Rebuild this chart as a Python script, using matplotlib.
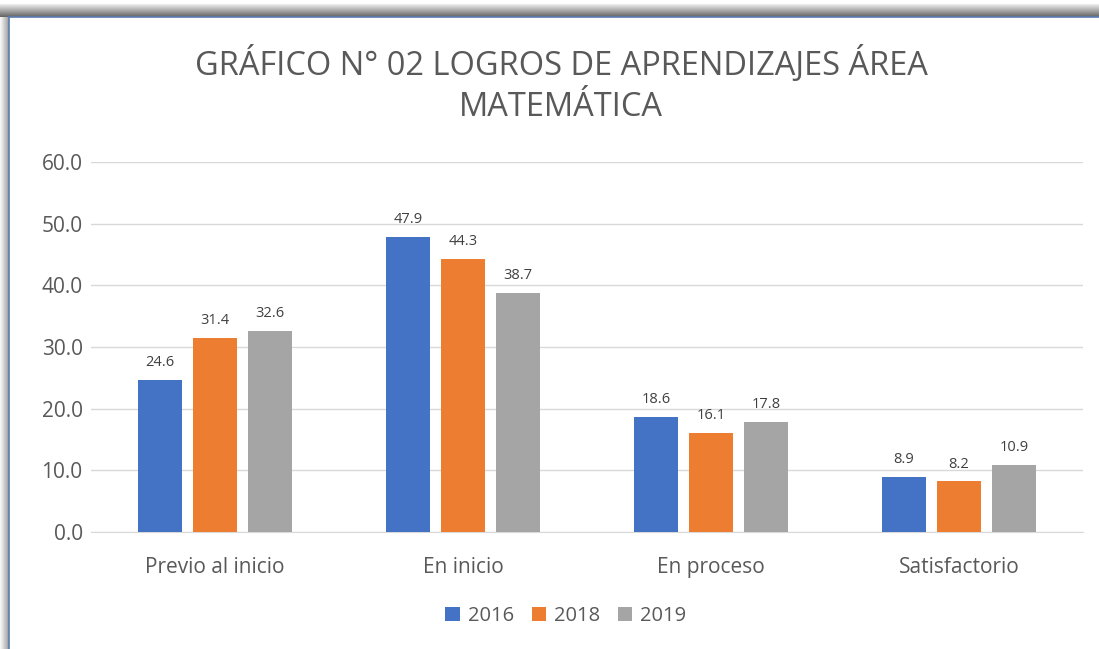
import matplotlib
matplotlib.use("Agg")
import matplotlib.pyplot as plt
from matplotlib.patches import Rectangle
import numpy as np

categories = ["Previo al inicio", "En inicio", "En proceso", "Satisfactorio"]
years = ["2016", "2018", "2019"]
v2016 = [24.6, 47.9, 18.6, 8.9]
v2018 = [31.4, 44.3, 16.1, 8.2]
v2019 = [32.6, 38.7, 17.8, 10.9]
series = [v2016, v2018, v2019]
colors = ["#4472C4", "#ED7D31", "#A5A5A5"]
title = "GRÁFICO N° 02 LOGROS DE APRENDIZAJES ÁREA\nMATEMÁTICA"

W, H = 1099, 649
fig = plt.figure(figsize=(W / 100, H / 100), dpi=100)
plt.rcParams['font.family'] = ['Open Sans', 'DejaVu Sans']

# shadow and frame
for i in range(13):
    fig.patches.append(Rectangle((0, (H - 17 + i) / H), 1, 1 / H,
                                 transform=fig.transFigure, color='#555555',
                                 alpha=max(0.05, 0.9 - 0.065 * i), lw=0, zorder=0))
for i in range(9):
    fig.patches.append(Rectangle(((8 - i) / W, 0), 1 / W, (H - 17) / H,
                                 transform=fig.transFigure, color='#606060',
                                 alpha=max(0.05, 0.6 - 0.07 * i), lw=0, zorder=0))
fig.patches.append(Rectangle((9 / W, -0.01), 1.1, (H - 17) / H + 0.01,
                             transform=fig.transFigure, facecolor='white',
                             edgecolor='#5B7DB1', lw=1.2, zorder=1))

ax = fig.add_axes([91 / W, (H - 532) / H, (1083 - 91) / W, (532 - 162) / H])
ax.set_zorder(2)
ax.patch.set_alpha(0)

x = np.arange(len(categories))
step = 0.222
bw = 0.177
for i, (vals, c, yr) in enumerate(zip(series, colors, years)):
    pos = x + (i - 1) * step
    ax.bar(pos, vals, width=bw, color=c, label=yr, zorder=3)
    for p, v in zip(pos, vals):
        ax.text(p, v + 1.6, f"{v:.1f}", ha='center', va='bottom',
                fontsize=10.5, color='#404040')

ax.set_xlim(-0.5, len(categories) - 0.5)
ax.set_ylim(0, 60)
ax.set_yticks(np.arange(0, 61, 10))
ax.set_yticklabels([f"{t:.1f}" for t in np.arange(0, 61, 10)])
ax.set_xticks(x)
ax.set_xticklabels(categories)
ax.tick_params(axis='both', length=0, labelsize=15, labelcolor='#595959')
ax.tick_params(axis='y', pad=6)
ax.tick_params(axis='x', pad=18)
ax.grid(axis='y', color='#D9D9D9', lw=1, zorder=0)
for s in ['top', 'right', 'left']:
    ax.spines[s].set_visible(False)
ax.spines['bottom'].set_color('#D9D9D9')

fig.text(561 / W, 1 - 85 / H, title, ha='center', va='center',
         fontsize=23.5, color='#595959', linespacing=1.3, zorder=5)

leg = ax.legend(loc='center', bbox_to_anchor=(566 / W, 1 - 616 / H),
                bbox_transform=fig.transFigure, ncol=3, frameon=False,
                fontsize=14.5, handlelength=0.7, handleheight=0.7,
                columnspacing=0.9, handletextpad=0.4)
for t in leg.get_texts():
    t.set_color('#595959')

fig.savefig("out.png", dpi=100)
